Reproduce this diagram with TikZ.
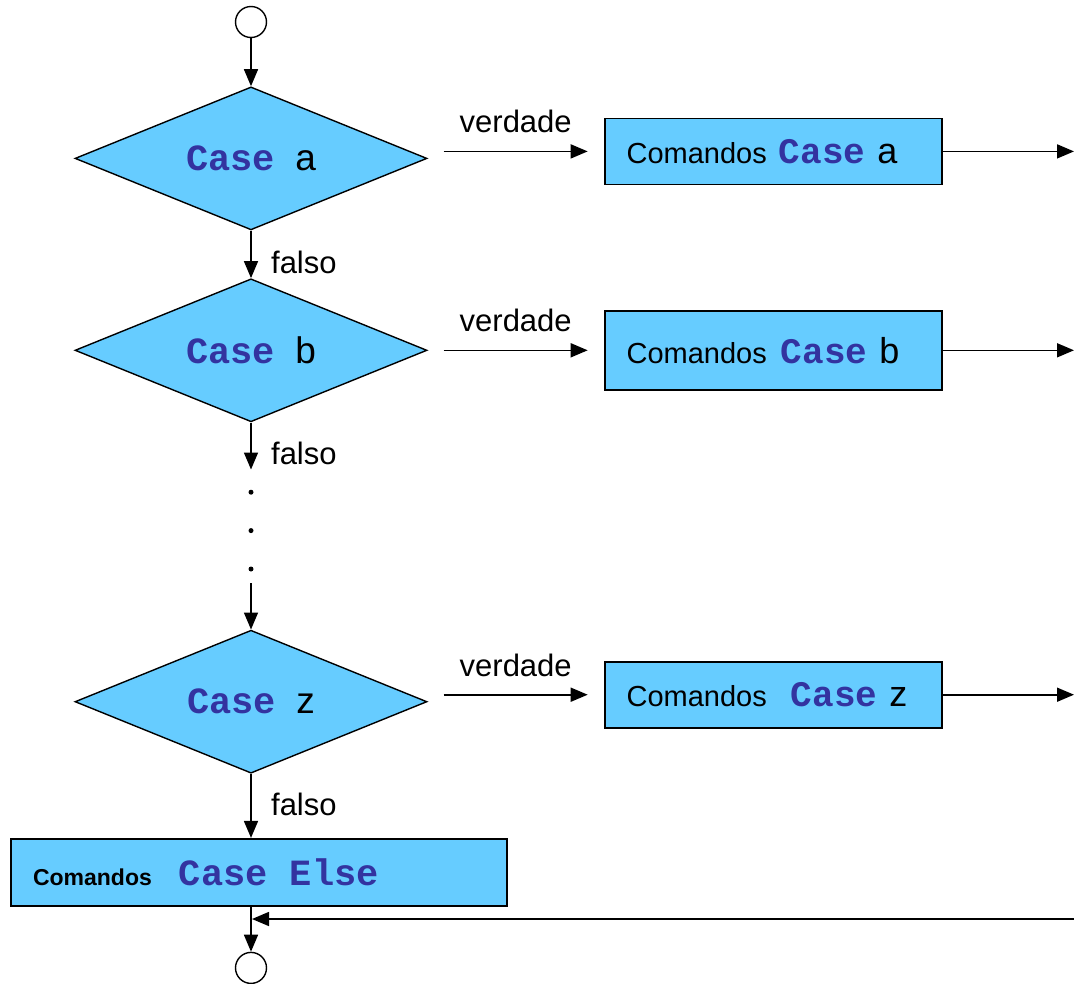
\documentclass[tikz,border=0pt]{standalone}
\usepackage{fontspec}
\setmainfont{Liberation Sans}
\newfontfamily\codefont{Liberation Mono}
\usepackage{xcolor}
\usetikzlibrary{positioning,shapes.geometric,arrows.meta}

\definecolor{caixa}{HTML}{66CCFF}
\definecolor{codigo}{HTML}{3333A0}

% palavra-chave do Select Case
\newcommand{\kw}[1]{{\codefont\bfseries\color{codigo}#1}}
\newcommand{\cmdtxt}{{\fontsize{29}{32}\selectfont Comandos}}

\begin{document}
\begin{tikzpicture}[
    x=1pt, y=-1pt,
    font=\fontsize{36}{40}\selectfont,
    teste/.style={
        diamond,
        aspect=2.46,
        draw=black,
        fill=caixa,
        line width=1.4pt,
        minimum width=352pt,
        minimum height=143pt,
        inner sep=0pt,
        font=\fontsize{37}{40}\selectfont
    },
    bloco/.style={
        rectangle,
        draw=black,
        fill=caixa,
        line width=1.8pt,
        minimum width=337pt,
        minimum height=66pt,
        text width=293pt,
        align=left,
        inner xsep=22pt,
        font=\fontsize{36}{40}\selectfont
    },
    terminal/.style={circle, draw=black, line width=1.4pt, minimum size=31pt, inner sep=0pt},
    ponto/.style={circle, fill=black, minimum size=5pt, inner sep=0pt},
    seta/.style={-{Triangle[length=17pt, width=14pt]}, line width=1.6pt},
    rotulo/.style={font=\fontsize{31}{34}\selectfont}
]

\useasboundingbox (0,0) rectangle (1074,983);

\node[terminal] (start) at (251,22) {};

\node[teste] (caseA) [below=48pt of start] {\kw{Case}~~a};
\node[teste] (caseB) [below=47.5pt of caseA] {\kw{Case}~~b};

\node[ponto] (dot1) [below=67pt of caseB] {};
\node[ponto] (dot2) [below=33pt of dot1] {};
\node[ponto] (dot3) [below=33pt of dot2] {};

\node[teste] (caseZ) [below=207pt of caseB] {\kw{Case}~~z};

\node[bloco] (cmdA) [right=176pt of caseA, yshift=7pt]
{\cmdtxt{} \kw{Case} a};
\node[bloco, minimum height=79pt] (cmdB) [right=176pt of caseB]
{\cmdtxt\hspace{14pt}\kw{Case} b};
\node[bloco] (cmdZ) [right=176pt of caseZ, yshift=7pt]
{\cmdtxt~~\kw{Case} z};

\node[bloco, minimum width=496pt, minimum height=67pt, text width=452pt] (cmdElse)
[below=64pt of caseZ, xshift=8pt]
{{\fontsize{23}{26}\selectfont\bfseries Comandos}\hspace{27pt}{\fontsize{37}{40}\selectfont\kw{Case\hspace{0.6em}Else}}};

\node[terminal] (stop) [below=45pt of cmdElse, xshift=-8pt] {};

\coordinate (retorno) at (1074,919);

% fluxo principal
\draw[seta] (start) -- (caseA);
\draw[seta] (caseA) -- node[rotulo, pos=0.66, right=16pt] {falso} (caseB);
\draw[seta, shorten >=20pt] (caseB) -- node[rotulo, pos=0.46, right=16pt] {falso} (dot1);
\draw[seta, shorten <=11.5pt] (dot3) -- (caseZ);
\draw[seta] (caseZ) -- node[rotulo, pos=0.47, right=16pt] {falso} (caseZ.south |- cmdElse.north);
\draw[seta] (cmdElse.south -| stop.north) -- (stop);

% ramos verdade
\draw[seta, shorten <=16pt, shorten >=16pt] (caseA.east |- cmdA.west)
    -- node[rotulo, above=14pt] {verdade} (cmdA.west);
\draw[seta, shorten <=16pt, shorten >=16pt] (caseB.east |- cmdB.west)
    -- node[rotulo, above=14pt] {verdade} (cmdB.west);
\draw[seta, shorten <=16pt, shorten >=16pt] (caseZ.east |- cmdZ.west)
    -- node[rotulo, above=14pt] {verdade} (cmdZ.west);

\draw[seta] (cmdA) -- (cmdA.east -| retorno);
\draw[seta] (cmdB) -- (cmdB.east -| retorno);
\draw[seta] (cmdZ) -- (cmdZ.east -| retorno);

% retorno ao fim
\draw[seta, shorten >=1pt] (retorno) -- (retorno -| stop);

\end{tikzpicture}
\end{document}
